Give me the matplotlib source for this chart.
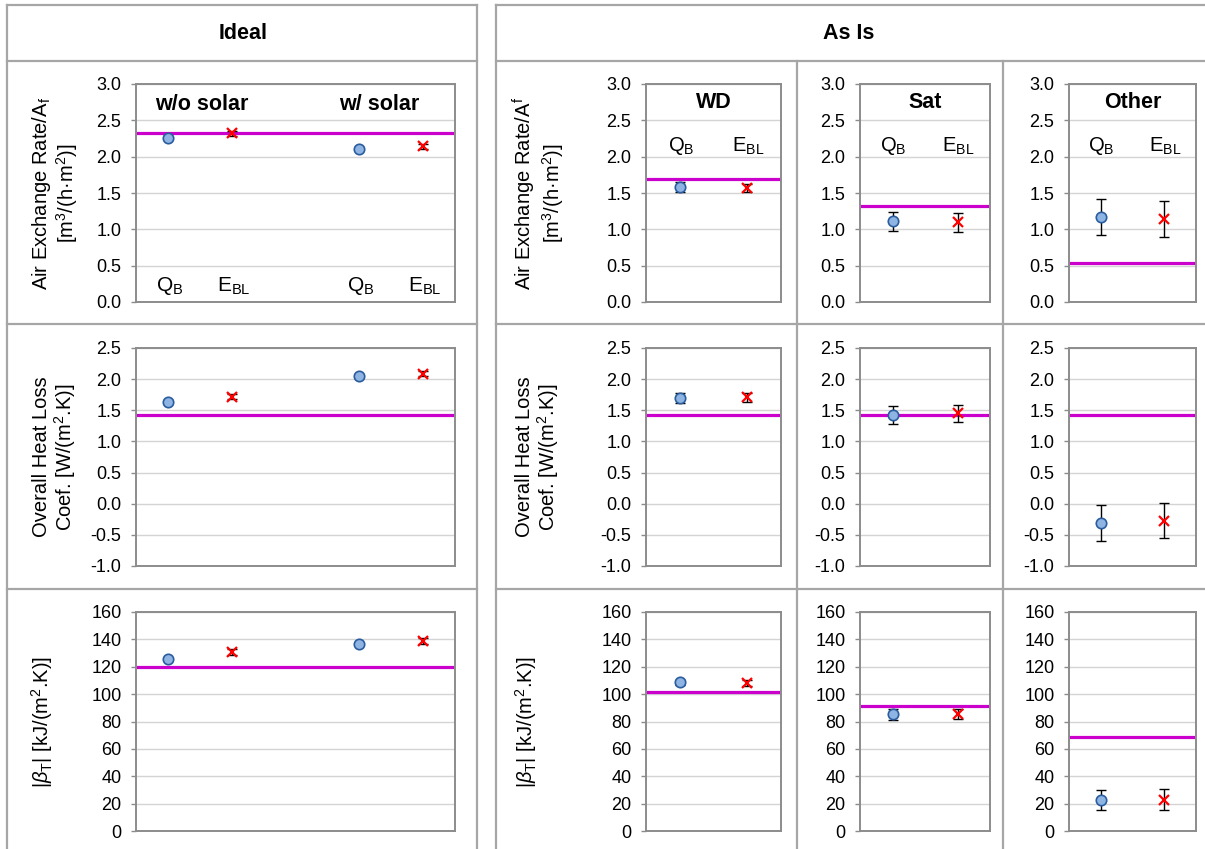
import numpy as np
import matplotlib
matplotlib.use('Agg')
import matplotlib.pyplot as plt

plt.rcParams['font.family'] = ['Liberation Sans', 'DejaVu Sans']
plt.rcParams['mathtext.fontset'] = 'custom'
plt.rcParams['mathtext.rm'] = 'Liberation Sans'
plt.rcParams['mathtext.it'] = 'Liberation Sans:italic'
plt.rcParams['mathtext.bf'] = 'Liberation Sans:bold'

# ---------------- data ----------------
# Ideal: x positions of the four estimates (w/o solar: QB, EBL ; w/ solar: QB, EBL)
ideal_x_qb = [1, 7]
ideal_x_ebl = [3, 9]
ideal_groups = ['w/o solar', 'w/ solar']

ideal_qb_air = [2.26, 2.11]
ideal_qb_air_err = [0.02, 0.02]
ideal_ebl_air = [2.32, 2.14]
ideal_ebl_air_err = [0.04, 0.04]
ideal_ref_air = 2.32

ideal_qb_ua = [1.63, 2.05]
ideal_qb_ua_err = [0.03, 0.03]
ideal_ebl_ua = [1.72, 2.09]
ideal_ebl_ua_err = [0.04, 0.04]
ideal_ref_ua = 1.43

ideal_qb_beta = [125.6, 136.7]
ideal_qb_beta_err = [1.0, 1.0]
ideal_ebl_beta = [130.8, 138.9]
ideal_ebl_beta_err = [2.0, 2.0]
ideal_ref_beta = 120.0

# As Is panels
asis_panels = ['WD', 'Sat', 'Other']
asis_x_qb = 1
asis_x_ebl = 3

asis_qb_air = [1.58, 1.11, 1.17]
asis_qb_air_err = [0.07, 0.13, 0.25]
asis_ebl_air = [1.57, 1.10, 1.14]
asis_ebl_air_err = [0.06, 0.13, 0.245]
asis_ref_air = [1.69, 1.32, 0.53]

asis_qb_ua = [1.70, 1.43, -0.31]
asis_qb_ua_err = [0.08, 0.145, 0.29]
asis_ebl_ua = [1.71, 1.45, -0.27]
asis_ebl_ua_err = [0.07, 0.135, 0.28]
asis_ref_ua = [1.43, 1.43, 1.43]

asis_qb_beta = [108.5, 85.2, 22.6]
asis_qb_beta_err = [2.0, 3.8, 7.6]
asis_ebl_beta = [108.0, 85.5, 22.9]
asis_ebl_beta_err = [2.0, 3.6, 7.6]
asis_ref_beta = [101.8, 91.2, 68.4]

# axis ticks
air_ticks = [0.0, 0.5, 1.0, 1.5, 2.0, 2.5, 3.0]
ua_ticks = [-1.0, -0.5, 0.0, 0.5, 1.0, 1.5, 2.0, 2.5]
beta_ticks = [0, 20, 40, 60, 80, 100, 120, 140, 160]

header_labels = ['Ideal', 'As Is']
qb_label = r'Q$_{\rm B}$'
ebl_label = r'E$_{\rm BL}$'

ylabels_ideal = ['Air Exchange Rate/A$_{\\rm f}$\n[m$^{3}$/(h·m$^{2}$)]',
                 'Overall Heat Loss\nCoef. [W/(m$^{2}$.K)]',
                 r'|$\beta_{\rm T}$| [kJ/(m$^{2}$.K)]']
ylabels_asis = ['Air Exchange Rate/A$^{\\rm f}$\n[m$^{3}$/(h·m$^{2}$)]',
                'Overall Heat Loss\nCoef. [W/(m$^{2}$.K)]',
                r'|$\beta_{\rm T}$| [kJ/(m$^{2}$.K)]']

# ---------------- layout ----------------
W, H = 1205, 849
fig = plt.figure(figsize=(W / 100, H / 100), dpi=100)
bg = fig.add_axes([0, 0, 1, 1], zorder=0)
bg.set_xlim(0, W)
bg.set_ylim(H, 0)
bg.axis('off')

tc = '#a6a6a6'
tlw = 1.6
# Ideal column box
bg.plot([7, 477], [5, 5], color=tc, lw=tlw)
bg.plot([7, 7], [5, H + 5], color=tc, lw=tlw)
bg.plot([477, 477], [5, H + 5], color=tc, lw=tlw)
for yy in [61, 324, 589]:
    bg.plot([7, 477], [yy, yy], color=tc, lw=tlw)
# As Is box
bg.plot([496, W + 5], [5, 5], color=tc, lw=tlw)
bg.plot([496, 496], [5, H + 5], color=tc, lw=tlw)
for yy in [61, 324, 589]:
    bg.plot([496, W + 5], [yy, yy], color=tc, lw=tlw)
for xx in [797, 1003]:
    bg.plot([xx, xx], [61, H + 5], color=tc, lw=tlw)

bg.text(243, 33, header_labels[0], ha='center', va='center', fontsize=15.5, fontweight='bold')
bg.text(849, 33, header_labels[1], ha='center', va='center', fontsize=15.5, fontweight='bold')

rows_px = [(84, 302), (348, 566), (612, 831)]
ideal_px = (136, 455)
asis_px = [(646, 781), (860, 990), (1069, 1196)]


def px_axes(xr, yr):
    x0, x1 = xr
    y0, y1 = yr
    return fig.add_axes([x0 / W, 1 - y1 / H, (x1 - x0) / W, (y1 - y0) / H], zorder=2)


def style(ax, ticks, fmt, xlim):
    ax.set_xlim(*xlim)
    ax.set_ylim(ticks[0], ticks[-1])
    ax.set_yticks(ticks)
    ax.set_yticklabels([fmt.format(t) for t in ticks])
    ax.set_xticks([])
    ax.grid(axis='y', color='#d4d4d4', lw=1.0)
    ax.set_axisbelow(True)
    for s in ax.spines.values():
        s.set_color('#8c8c8c')
        s.set_linewidth(1.4)
    ax.tick_params(axis='y', direction='out', length=3.5, width=1.0, color='#8c8c8c',
                   labelsize=13, pad=7)
    ax.patch.set_facecolor('white')


def draw(ax, xq, yq, eq, xe, ye, ee, ref):
    ax.axhline(ref, color='#CC00CC', lw=2.3, zorder=2)
    ax.errorbar(xq, yq, yerr=eq, fmt='none', ecolor='black', elinewidth=1.0,
                capsize=3.5, capthick=1.0, zorder=3)
    ax.plot(xq, yq, 'o', ms=7.5, mfc='#8DB4E2', mec='#2A5C9E', mew=1.2, zorder=4, ls='none')
    ax.errorbar(xe, ye, yerr=ee, fmt='none', ecolor='black', elinewidth=1.0,
                capsize=3.5, capthick=1.0, zorder=3)
    ax.plot(xe, ye, 'x', ms=7, mew=1.6, color='#FF0000', zorder=4, ls='none')


row_ticks = [air_ticks, ua_ticks, beta_ticks]
row_fmt = ['{:.1f}', '{:.1f}', '{:d}']
ideal_data = [
    (ideal_qb_air, ideal_qb_air_err, ideal_ebl_air, ideal_ebl_air_err, ideal_ref_air),
    (ideal_qb_ua, ideal_qb_ua_err, ideal_ebl_ua, ideal_ebl_ua_err, ideal_ref_ua),
    (ideal_qb_beta, ideal_qb_beta_err, ideal_ebl_beta, ideal_ebl_beta_err, ideal_ref_beta),
]
asis_data = [
    (asis_qb_air, asis_qb_air_err, asis_ebl_air, asis_ebl_air_err, asis_ref_air),
    (asis_qb_ua, asis_qb_ua_err, asis_ebl_ua, asis_ebl_ua_err, asis_ref_ua),
    (asis_qb_beta, asis_qb_beta_err, asis_ebl_beta, asis_ebl_beta_err, asis_ref_beta),
]
ideal_label_x = [55, 55, 42]
asis_label_x = [538, 538, 526]

for r in range(3):
    yr = rows_px[r]
    ymid = 1 - (yr[0] + yr[1]) / 2 / H
    # Ideal
    ax = px_axes(ideal_px, yr)
    style(ax, row_ticks[r], row_fmt[r], (0, 10))
    qb, qbe, eb, ebe, ref = ideal_data[r]
    draw(ax, ideal_x_qb, qb, qbe, ideal_x_ebl, eb, ebe, ref)
    fig.text(ideal_label_x[r] / W, ymid, ylabels_ideal[r], rotation=90, ha='center',
             va='center', fontsize=14.5, multialignment='center', linespacing=1.1)
    if r == 0:
        for g, xg in zip(ideal_groups, [2.07, 7.62]):
            ax.text(xg, 2.72, g, ha='center', va='center', fontsize=15.5, fontweight='bold')
        for xq in ideal_x_qb:
            ax.text(xq + 0.05, 0.22, qb_label, ha='center', va='center', fontsize=15)
        for xe in ideal_x_ebl:
            ax.text(xe + 0.05, 0.22, ebl_label, ha='center', va='center', fontsize=15)
    # As Is
    qb, qbe, eb, ebe, ref = asis_data[r]
    for i, name in enumerate(asis_panels):
        ax = px_axes(asis_px[i], yr)
        style(ax, row_ticks[r], row_fmt[r], (0, 4))
        draw(ax, [asis_x_qb], [qb[i]], [qbe[i]], [asis_x_ebl], [eb[i]], [ebe[i]], ref[i])
        if r == 0:
            ax.text(2, 2.74, name, ha='center', va='center', fontsize=15.5, fontweight='bold')
            ax.text(asis_x_qb + 0.03, 2.14, qb_label, ha='center', va='center', fontsize=14.5)
            ax.text(asis_x_ebl + 0.03, 2.14, ebl_label, ha='center', va='center', fontsize=14.5)
        if i == 0:
            fig.text(asis_label_x[r] / W, ymid, ylabels_asis[r], rotation=90, ha='center',
                     va='center', fontsize=14.5, multialignment='center', linespacing=1.1)

fig.savefig('out.png', dpi=100, facecolor='white')
